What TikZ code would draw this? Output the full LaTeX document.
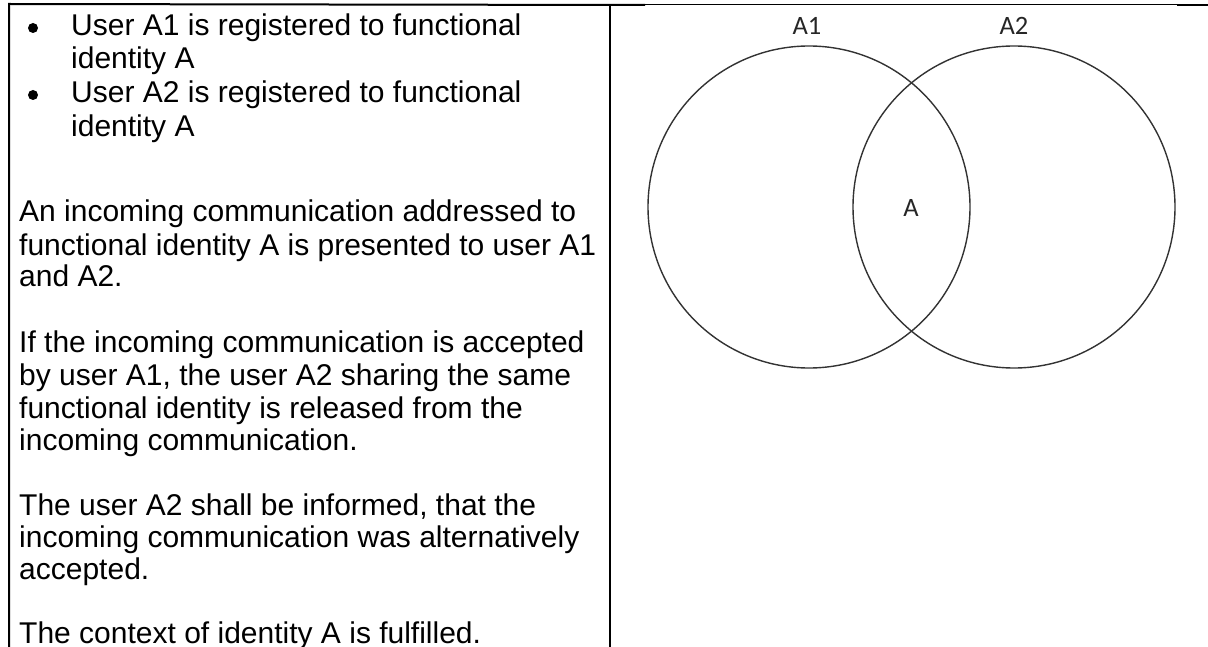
\documentclass[tikz,border=0pt]{standalone}
\usepackage{fontspec}
\setmainfont{Liberation Sans}
\newfontfamily\labelfont{Carlito}
\begin{document}
\begin{tikzpicture}[x=1pt,y=-1pt,
  txt/.style={anchor=base west,inner sep=0pt,font=\fontsize{30}{33}\selectfont},
  bul/.style={circle,fill=black,inner sep=0pt,minimum size=10pt},
  lbl/.style={inner sep=0pt,text=black!85,font=\labelfont\fontsize{26.5}{29}\selectfont},
  thick border/.style={line width=2pt},
  thin border/.style={line width=1.2pt},
  venn/.style={draw=black!80,line width=1.4pt}]
\useasboundingbox (0,0) rectangle (1208,647);
% table borders
\coordinate (tm) at (645,5);
\coordinate (tr) at (1177,4.6);
\coordinate (tr2) at (1177,5.4);
\coordinate (te) at (1208,5.4);
\coordinate (bl) at (9,647);
\coordinate (mt) at (610,5);
\coordinate (mb) at (610,647);
\draw[thick border] (bl) -- (9,4) -- (tm);
\draw[thin border] (645,4.6) -- (tr);
\draw[thick border] (tr2) -- (te);
\draw[thick border] (mt) -- (mb);
% bullets
\node[bul] (b1) at (33,28) {};
\node[bul] (b2) at (33,95) {};
% text lines
\node[txt] (l1) at (71,36) {User A1 is registered to functional};
\node[txt] (l2) at (71,69) {identity A};
\node[txt] (l3) at (71,103) {User A2 is registered to functional};
\node[txt] (l4) at (71,137) {identity A};
\node[txt] (l5) at (19,222) {An incoming communication addressed to};
\node[txt] (l6) at (19,255) {functional identity A is presented to user A1};
\node[txt] (l7) at (19,287) {and A2.};
\node[txt] (l8) at (19,352) {If the incoming communication is accepted};
\node[txt] (l9) at (19,385) {by user A1, the user A2 sharing the same};
\node[txt] (l10) at (19,418) {functional identity is released from the};
\node[txt] (l11) at (19,450) {incoming communication.};
\node[txt] (l12) at (19,515) {The user A2 shall be informed, that the};
\node[txt] (l13) at (19,547) {incoming communication was alternatively};
\node[txt] (l14) at (19,579) {accepted.};
\node[txt] (l15) at (19,643) {The context of identity A is fulfilled.};
% Venn diagram
\node[venn,circle,minimum size=322pt,inner sep=0pt] (c1) at (809,207) {};
\node[venn,circle,minimum size=322pt,inner sep=0pt] (c2) at (1014,207) {};
\node[lbl,anchor=base] (a1) at (807,35) {A1};
\node[lbl,anchor=base] (a2) at (1014,35) {A2};
\node[lbl,anchor=base] (a) at (911,217) {A};
\end{tikzpicture}
\end{document}
